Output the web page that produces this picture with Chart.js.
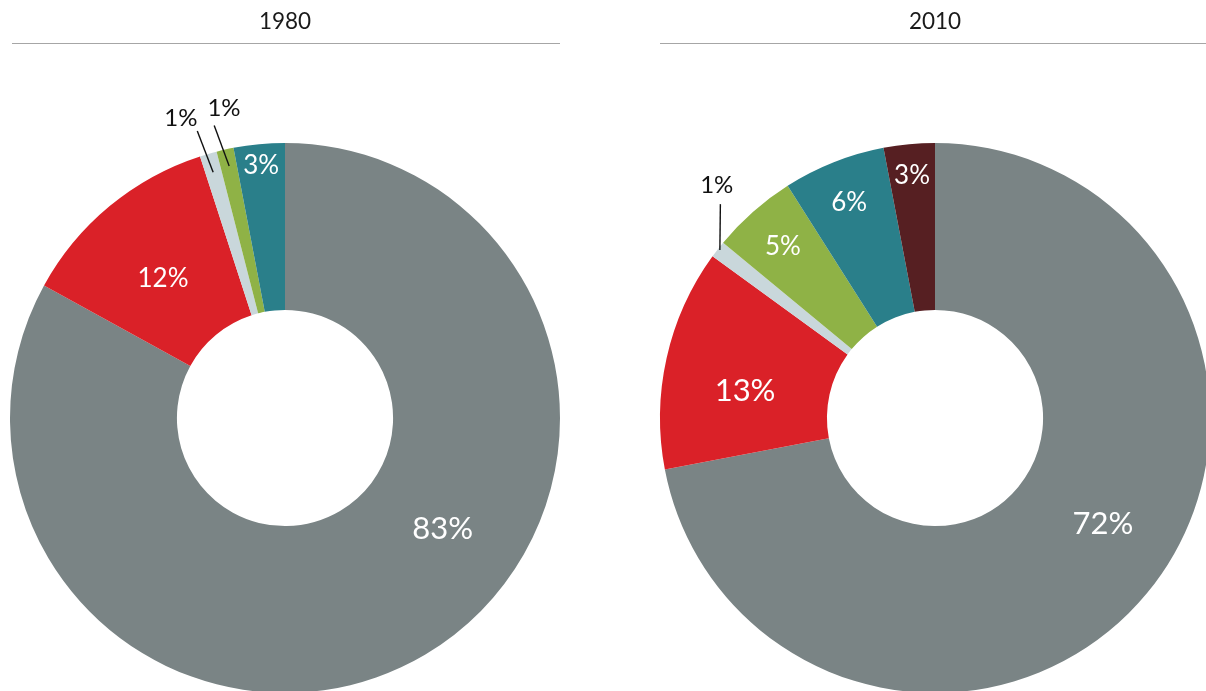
<!DOCTYPE html>
<html>
<head>
<meta charset="utf-8">
<script src="https://cdn.jsdelivr.net/npm/chart.js@4"></script>
<style>
  html, body { margin: 0; padding: 0; background: #fff; overflow: hidden; width: 1206px; height: 691px; }
  canvas { position: absolute; top: 0; }
  #chart1980 { left: 0; }
  #chart2010 { left: 603px; }
</style>
</head>
<body>
<canvas id="chart1980" width="603" height="693"></canvas>
<canvas id="chart2010" width="620" height="693"></canvas>
<script>
// データ
const years = ['1980', '2010'];
const categories1980 = ['A', 'B', 'C', 'D', 'E'];
const values1980 = [83, 12, 1, 1, 3];
const categories2010 = ['A', 'B', 'C', 'D', 'E', 'F'];
const values2010 = [72, 13, 1, 5, 6, 3];

// 色
const sliceColors = ['#7a8485', '#da2128', '#c9d7db', '#8fb246', '#2a7f8a', '#561f22'];

// ラベル配置（中心からの半径 px、角度は上から時計回りの度数、null なら扇形の中央）
const labelPlace1980 = [
  { r: 192, deg: 124.8, size: 31 },
  { r: 186, deg: 319, size: 26 },
  { outside: true, lineR: [256, 300], lineDeg: [343.7, 343], textR: 318, textDeg: 340.9, size: 24 },
  { outside: true, lineR: [258, 301], lineDeg: [347.5, 346.4], textR: 317, textDeg: 348.9, size: 24 },
  { r: 254, deg: null, size: 26 }
];
const labelPlace2010 = [
  { r: 198, deg: 122, size: 31 },
  { r: 192, deg: 278.4, size: 31 },
  { outside: true, lineR: [273, 303], lineDeg: [308, 314.9], textR: 320, textDeg: 317, size: 24 },
  { r: 230, deg: null, size: 26 },
  { r: 233, deg: null, size: 26 },
  { r: 244, deg: null, size: 26 }
];

const FONT = 'Lato, "Open Sans", sans-serif';

function polar(cx, cy, r, deg) {
  const a = (deg - 90) * Math.PI / 180;
  return { x: cx + r * Math.cos(a), y: cy + r * Math.sin(a) };
}

// タイトルと下線
const headerPlugin = {
  id: 'header',
  afterDraw(chart, args, opts) {
    const ctx = chart.ctx;
    ctx.save();
    ctx.font = `22.5px ${FONT}`;
    ctx.fillStyle = '#1a1a1a';
    ctx.textAlign = 'center';
    ctx.textBaseline = 'alphabetic';
    ctx.fillText(opts.text, opts.cx, 28.5);
    ctx.strokeStyle = '#a6a6a6';
    ctx.lineWidth = 1;
    ctx.beginPath();
    ctx.moveTo(opts.x1, 43.5);
    ctx.lineTo(opts.x2, 43.5);
    ctx.stroke();
    ctx.restore();
  }
};

// パーセントラベル
const sliceLabelPlugin = {
  id: 'sliceLabels',
  afterDatasetsDraw(chart, args, opts) {
    const ctx = chart.ctx;
    const meta = chart.getDatasetMeta(0);
    const values = chart.data.datasets[0].data;
    ctx.save();
    ctx.textAlign = 'center';
    ctx.textBaseline = 'alphabetic';
    meta.data.forEach((arc, i) => {
      const place = opts.places[i];
      if (!place) return;
      const cx = arc.x, cy = arc.y;
      const midDeg = ((arc.startAngle + arc.endAngle) / 2) * 180 / Math.PI + 90;
      const text = values[i] + '%';
      ctx.font = `${place.size}px ${FONT}`;
      if (place.outside) {
        const p1 = polar(cx, cy, place.lineR[0], place.lineDeg[0]);
        const p2 = polar(cx, cy, place.lineR[1], place.lineDeg[1]);
        ctx.strokeStyle = '#111';
        ctx.lineWidth = 1.4;
        ctx.beginPath();
        ctx.moveTo(p1.x, p1.y);
        ctx.lineTo(p2.x, p2.y);
        ctx.stroke();
        const t = polar(cx, cy, place.textR, place.textDeg);
        ctx.fillStyle = '#111';
        ctx.fillText(text, t.x, t.y + place.size * 0.36);
      } else {
        const deg = place.deg == null ? midDeg : place.deg;
        const t = polar(cx, cy, place.r, deg);
        ctx.fillStyle = '#ffffff';
        ctx.fillText(text, t.x, t.y + place.size * 0.36);
      }
    });
    ctx.restore();
  }
};

function makeChart(id, labels, values, places, padding, header) {
  return new Chart(document.getElementById(id), {
    type: 'doughnut',
    data: {
      labels: labels,
      datasets: [{
        data: values,
        backgroundColor: sliceColors.slice(0, values.length),
        borderWidth: 0,
        offset: 0,
        hoverOffset: 0
      }]
    },
    options: {
      responsive: false,
      animation: false,
      cutout: '39.3%',
      layout: { padding: padding },
      events: [],
      plugins: {
        legend: { display: false },
        tooltip: { enabled: false },
        title: { display: false },
        header: header,
        sliceLabels: { places: places }
      }
    },
    plugins: [headerPlugin, sliceLabelPlugin]
  });
}

makeChart('chart1980', categories1980, values1980, labelPlace1980,
  { left: 10, right: 43, top: 143, bottom: 0 },
  { text: years[0], cx: 285, x1: 12, x2: 560 });

makeChart('chart2010', categories2010, values2010, labelPlace2010,
  { left: 57, right: 13, top: 143, bottom: 0 },
  { text: years[1], cx: 332, x1: 57, x2: 603 });
</script>
</body>
</html>
